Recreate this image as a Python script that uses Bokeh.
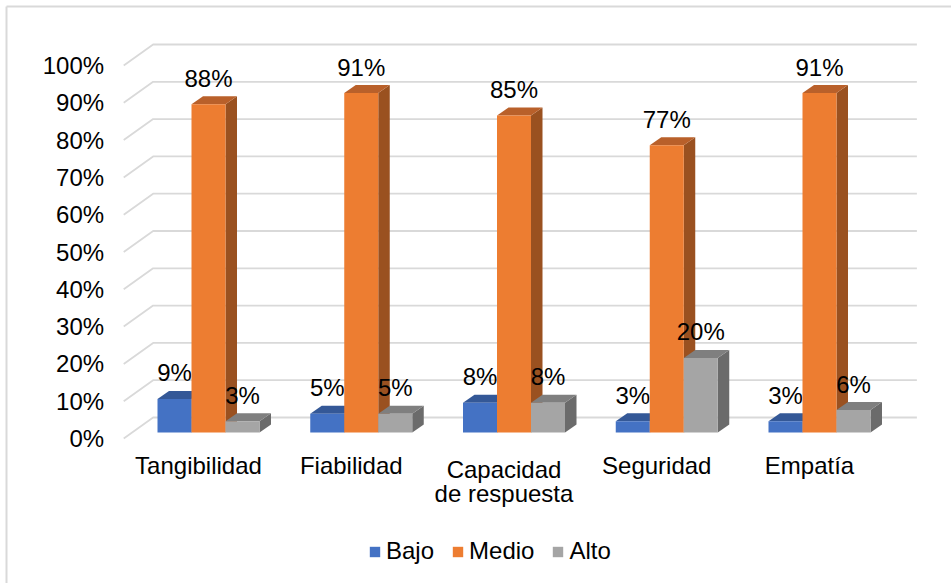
from bokeh.plotting import figure
from bokeh.models import Legend, LegendItem
from bokeh.core.properties import value
from bokeh.embed import file_html
from bokeh.resources import INLINE

# ---- data -------------------------------------------------------------
categories = ["Tangibilidad", "Fiabilidad", "Capacidad\nde respuesta", "Seguridad", "Empatía"]
series_names = ["Bajo", "Medio", "Alto"]
bajo = [9, 5, 8, 3, 3]
medio = [88, 91, 85, 77, 91]
alto = [3, 5, 8, 20, 6]
y_ticks = [0, 10, 20, 30, 40, 50, 60, 70, 80, 90, 100]

series_values = [bajo, medio, alto]
# front / top / side shades of each series (3-D column look)
front_colors = ["#4472C4", "#ED7D31", "#A5A5A5"]
top_colors = ["#345897", "#B9602A", "#7F7F7F"]
side_colors = ["#2C4C86", "#9A5120", "#6B6B6B"]

# ---- canvas and scale -------------------------------------------------
W, H = 951, 583
PX_PER_CAT = 152.75   # horizontal distance between category groups
PX_PER_PCT = 3.73     # vertical size of one percent
X0_PX = 208.0         # screen x of the first group centre
Y0_PX = 432.0         # screen y of 0 % on the columns' front plane

x_range = (-X0_PX / PX_PER_CAT, (W - X0_PX) / PX_PER_CAT)
y_range = (-(H - Y0_PX) / PX_PER_PCT, Y0_PX / PX_PER_PCT)


def dx(px):
    return px / PX_PER_CAT


def dy(px):
    return px / PX_PER_PCT


FONT_NAME = "Liberation Sans"
FONT = value(FONT_NAME)
FONT_SIZE = "24px"

BAR_W = 34.0                 # column width, px
DEPTH_X, DEPTH_Y = 11.5, 8.0  # column depth, px
WALL_X, WALL_Y = 21.0, 15.0   # back wall offset from the columns' front plane
EDGE_X, EDGE_Y = 8.4, 6.0     # front floor edge offset (towards viewer)

p = figure(width=W, height=H, x_range=x_range, y_range=y_range,
           output_backend="svg", toolbar_location=None,
           min_border=0, outline_line_color=None,
           background_fill_color="white", border_fill_color="white")
p.xaxis.visible = False
p.yaxis.visible = False
p.xgrid.visible = False
p.ygrid.visible = False

n = len(categories)
x_lo, x_hi = -0.5, n - 0.5

# ---- chart area border (top and left edges) ---------------------------
bx = x_range[0] + dx(6)
by = y_range[1] - dy(6)
p.segment(x0=[bx, bx], y0=[by, by], x1=[x_range[1], bx], y1=[by, y_range[0]],
          line_color="#D9D9D9", line_width=2)

# ---- gridlines: side wall diagonal + back wall line -------------------
grid_xs, grid_ys = [], []
for v in y_ticks:
    grid_xs.append([x_lo - dx(EDGE_X), x_lo + dx(WALL_X), x_hi + dx(WALL_X)])
    grid_ys.append([v - dy(EDGE_Y), v + dy(WALL_Y), v + dy(WALL_Y)])
p.multi_line(xs=grid_xs, ys=grid_ys, line_color="#D9D9D9", line_width=1.8)

# y tick labels at the front edge of the floor
p.text(x=[x_lo - dx(EDGE_X) - dx(19.6)] * len(y_ticks),
       y=[v - dy(EDGE_Y) for v in y_ticks],
       text=[f"{v}%" for v in y_ticks],
       text_font=FONT, text_font_size=FONT_SIZE, text_color="#000000",
       text_align="right", text_baseline="middle")

# ---- 3-D columns --------------------------------------------------------
legend_items = []
for k, (name, vals) in enumerate(zip(series_names, series_values)):
    off = dx((k - 1) * BAR_W)
    half = dx(BAR_W / 2)
    lefts = [i + off - half for i in range(n)]
    rights = [i + off + half for i in range(n)]

    side_xs = [[r, r + dx(DEPTH_X), r + dx(DEPTH_X), r] for r in rights]
    side_ys = [[0, dy(DEPTH_Y), v + dy(DEPTH_Y), v] for v in vals]
    p.patches(xs=side_xs, ys=side_ys, fill_color=side_colors[k], line_color=None)

    top_xs = [[l, r, r + dx(DEPTH_X), l + dx(DEPTH_X)] for l, r in zip(lefts, rights)]
    top_ys = [[v, v, v + dy(DEPTH_Y), v + dy(DEPTH_Y)] for v in vals]
    p.patches(xs=top_xs, ys=top_ys, fill_color=top_colors[k], line_color=None)

    front = p.quad(left=lefts, right=rights, bottom=[0] * n, top=vals,
                   fill_color=front_colors[k], line_color=None)
    legend_items.append(LegendItem(label=name, renderers=[front]))

    # value labels above each column
    p.text(x=[i + off for i in range(n)], y=[v + dy(26) for v in vals],
           text=[f"{v}%" for v in vals],
           text_font=FONT, text_font_size=FONT_SIZE, text_color="#000000",
           text_align="center", text_baseline="middle")

# ---- category labels ------------------------------------------------------
lab_x, lab_y, lab_t = [], [], []
for i, cat in enumerate(categories):
    lines = cat.split("\n")
    first = 33 + 4 * (len(lines) - 1)
    for j, line in enumerate(lines):
        lab_x.append(i - dx(10))
        lab_y.append(-dy(first + 24 * j))
        lab_t.append(line)
p.text(x=lab_x, y=lab_y, text=lab_t, text_font=FONT, text_font_size=FONT_SIZE,
       text_color="#000000", text_align="center", text_baseline="middle")

# ---- legend ---------------------------------------------------------------
legend = Legend(items=legend_items, orientation="horizontal", location=(368, 18),
                glyph_width=13, glyph_height=13, label_standoff=5, spacing=17,
                padding=0, margin=0, label_height=26,
                label_text_font=FONT_NAME, label_text_font_size=FONT_SIZE,
                label_text_color="#000000",
                background_fill_alpha=0, border_line_color=None)
p.add_layout(legend)

open("out.html", "w").write(file_html(p, INLINE))
